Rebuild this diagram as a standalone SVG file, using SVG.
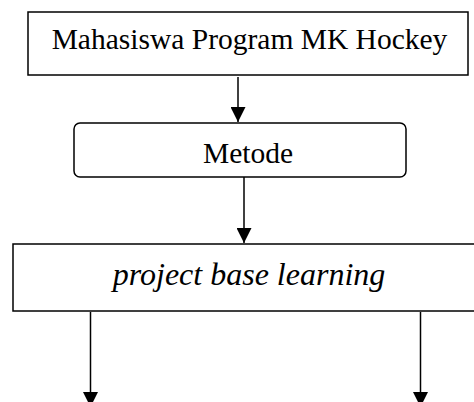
<svg xmlns="http://www.w3.org/2000/svg" width="474" height="402" viewBox="0 0 474 402">
<style>
.box{fill:#fff;stroke:#000;stroke-width:1.5}
.t{font-family:"Liberation Serif","Times New Roman",serif;font-size:29.5px;fill:#000;text-anchor:middle}
.i{font-style:italic;font-size:32px}
.c{stroke:#000;stroke-width:1.5;fill:none}
</style>
<defs>
<marker id="ah" markerUnits="userSpaceOnUse" markerWidth="16" markerHeight="15" refX="15" refY="7.5" orient="auto">
<path d="M0,0 L15,7.5 L0,15 Z" fill="#000"/>
</marker>
</defs>
<rect width="474" height="402" fill="#fff"/>
<g id="n1"><rect class="box" x="28" y="12" width="440" height="63"/><text class="t" x="249.5" y="49">Mahasiswa Program MK Hockey</text></g>
<g id="n2"><rect class="box" x="74" y="123" width="332" height="54" rx="6"/><text class="t" x="248" y="162.5">Metode</text></g>
<g id="n3"><rect class="box" x="13" y="244" width="470" height="67"/><text class="t i" x="249" y="284.5">project base learning</text></g>
<g id="connectors">
<line class="c" x1="238" y1="77" x2="238" y2="122" marker-end="url(#ah)"/>
<line class="c" x1="244" y1="177" x2="244" y2="243" marker-end="url(#ah)"/>
<line class="c" x1="90.5" y1="312" x2="90.5" y2="407" marker-end="url(#ah)"/>
<line class="c" x1="420.5" y1="312" x2="420.5" y2="407" marker-end="url(#ah)"/>
</g>
</svg>
